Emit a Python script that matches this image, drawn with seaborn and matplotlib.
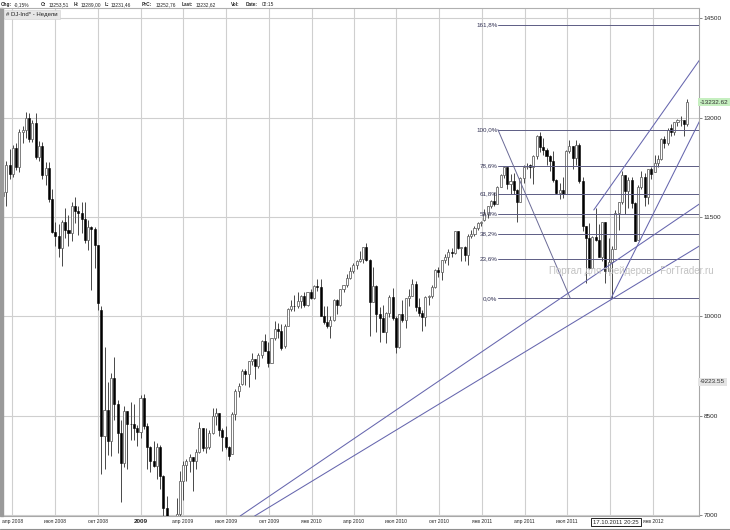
import numpy as np
import pandas as pd
import matplotlib
matplotlib.use("Agg")
import matplotlib.pyplot as plt
import matplotlib.dates as mdates
import seaborn as sns

# ---------------- data (weekly DJ-Ind CFD) ----------------
first_week = "2008-03-10"
opens = [11820, 11880, 12290, 12150, 12540, 12260, 12780, 12820, 12990, 12680,
         12920, 12410, 12570, 12140, 12240, 11770, 11280, 11220, 11030, 11430,
         11300, 11260, 11660, 11590, 11560, 11470, 11150, 11350, 11320, 11070,
         10100, 8190, 8590, 8120, 9070, 8680, 8240, 7790, 8570, 8380,
         8370, 8320, 8260, 8770, 8340, 8020, 7820, 7740, 8020, 7590,
         7110, 6800, 6370, 6960, 7020, 7520, 7760, 7820, 7870, 7820,
         7950, 8320, 8010, 8020, 8240, 8500, 8540, 8280, 8180, 8020,
         7920, 8520, 8870, 8980, 9180, 9130, 9320, 9350, 9250, 9420,
         9630, 9480, 9300, 9680, 9810, 9780, 9550, 9860, 10110, 10160,
         10150, 10230, 10310, 10170, 10360, 10270, 10460, 10450, 10010, 9910,
         9850, 9940, 10240, 10170, 10410, 10470, 10580, 10690, 10770, 10840,
         10860, 11040, 10850, 10220, 10460, 10030, 9980, 9770, 10050, 10290,
         9980, 9530, 10040, 9940, 10270, 10310, 10490, 10140, 10050, 9990,
         10290, 10300, 10450, 10700, 10670, 10850, 10900, 10970, 10960, 11290,
         11030, 11040, 10930, 11220, 11250, 11330, 11410, 11450, 11550, 11660,
         11740, 11690, 11960, 12140, 12260, 12000, 12040, 11910, 11730, 12090,
         12250, 12290, 12250, 12420, 12720, 12550, 12510, 12420, 12350, 12060,
         11860, 11910, 11840, 12490, 12570, 12390, 12590, 12050, 11360, 11180,
         10730, 11200, 11150, 10900, 11420, 10680, 10820, 11010, 11560, 11720,
         12140, 11890, 12060, 11710, 11160, 11950, 12110, 11800, 12220, 12180,
         12320, 12380, 12680, 12620, 12840, 12780, 12930, 12960, 12960, 12900]
highs = [12330, 12350, 12530, 12590, 12620, 12830, 12870, 13090, 13070, 12970,
         13070, 12650, 12630, 12330, 12330, 11930, 11430, 11400, 11460, 11630,
         11530, 11730, 11800, 11660, 11720, 11720, 11460, 11360, 11350, 11080,
         10150, 9540, 9010, 9140, 9390, 8740, 8440, 8640, 8570, 8700,
         8670, 8360, 8810, 8830, 8390, 8040, 8120, 8090, 8050, 7600,
         7290, 6810, 6990, 7250, 7670, 7820, 7840, 7920, 7880, 8000,
         8410, 8320, 8310, 8290, 8620, 8620, 8540, 8320, 8340, 8040,
         8550, 8900, 9000, 9210, 9210, 9320, 9440, 9360, 9450, 9640,
         9730, 9610, 9680, 9930, 9900, 9880, 9880, 10130, 10250, 10320,
         10360, 10320, 10360, 10370, 10420, 10480, 10570, 10570, 10160, 10160,
         10010, 10260, 10260, 10420, 10480, 10640, 10740, 10800, 10850, 10990,
         11050, 11100, 10860, 10740, 10470, 10140, 10170, 10060, 10320, 10430,
         10000, 10040, 10240, 10280, 10420, 10560, 10540, 10270, 10100, 10300,
         10320, 10470, 10710, 10740, 10850, 10940, 11010, 11030, 11290, 11290,
         11050, 11060, 11240, 11300, 11360, 11420, 11440, 11620, 11670, 11750,
         11870, 11970, 12150, 12270, 12260, 12150, 12160, 11920, 12110, 12290,
         12320, 12300, 12430, 12740, 12790, 12690, 12540, 12440, 12500, 12080,
         12020, 12100, 12510, 12660, 12570, 12660, 12610, 12110, 11370, 11410,
         11220, 11630, 11400, 11430, 11430, 11190, 11060, 11610, 11730, 12190,
         12140, 12110, 12100, 11720, 11980, 12190, 12160, 12230, 12250, 12440,
         12440, 12690, 12720, 12840, 12900, 12940, 12980, 13030, 12970, 13289]
lows = [11660, 11660, 12080, 12110, 12210, 12180, 12610, 12690, 12630, 12630,
        12380, 12350, 12080, 11990, 11730, 11260, 11060, 10890, 10760, 11190,
        11060, 11130, 11410, 11230, 11260, 11100, 11000, 10390, 10730, 10100,
        7620, 7700, 7910, 7890, 8430, 7940, 7190, 7730, 7700, 8130,
        8140, 8040, 8160, 8300, 7690, 7650, 7730, 7540, 7400, 6990,
        6700, 6210, 6290, 6840, 6990, 7230, 7520, 7650, 7360, 7700,
        7940, 7960, 7940, 7990, 8230, 8360, 8190, 7960, 8000, 7830,
        7920, 8440, 8780, 8960, 8970, 8940, 9260, 9060, 9220, 9370,
        9470, 9240, 9290, 9640, 9680, 9490, 9520, 9860, 10080, 10080,
        10130, 10130, 10140, 10160, 10260, 10260, 10380, 10000, 9890, 9830,
        9680, 9930, 10040, 10160, 10360, 10440, 10560, 10660, 10720, 10820,
        10800, 10830, 9710, 10220, 9760, 9610, 9760, 9600, 9990, 9940,
        9450, 9520, 9920, 9820, 10150, 10300, 10080, 10010, 9780, 9850,
        10170, 10280, 10430, 10590, 10550, 10810, 10770, 10890, 10940, 11010,
        10830, 10830, 10770, 11180, 11220, 11300, 11360, 11440, 11490, 11630,
        11660, 11690, 11950, 12090, 11920, 11850, 11840, 11430, 11720, 12020,
        12220, 12090, 12000, 12380, 12480, 12440, 12290, 12200, 12030, 11840,
        11770, 11780, 11840, 12470, 12220, 12290, 12010, 11290, 10510, 10710,
        10730, 11130, 10890, 10840, 10510, 10680, 10270, 11010, 11300, 11700,
        11550, 11640, 11640, 11140, 11160, 11920, 11660, 11690, 12080, 12180,
        12260, 12360, 12540, 12580, 12720, 12740, 12880, 12880, 12730, 12880]
closes = [11880, 12290, 12150, 12540, 12260, 12780, 12820, 12990, 12680, 12920,
          12410, 12570, 12140, 12240, 11770, 11280, 11220, 11030, 11430, 11300,
          11260, 11660, 11590, 11560, 11470, 11150, 11350, 11320, 11070, 10200,
          8190, 8590, 8120, 9070, 8680, 8240, 7790, 8570, 8380, 8370,
          8320, 8260, 8770, 8340, 8020, 7820, 7740, 8020, 7590, 7110,
          6800, 6370, 6960, 7020, 7520, 7760, 7820, 7870, 7820, 7950,
          8320, 8010, 8020, 8240, 8500, 8540, 8280, 8180, 8020, 7890,
          8520, 8870, 8950, 9180, 9130, 9320, 9350, 9250, 9420, 9630,
          9480, 9300, 9680, 9810, 9780, 9520, 9860, 10110, 10160, 10150,
          10230, 10310, 10170, 10360, 10270, 10460, 10450, 10010, 9910, 9850,
          9940, 10240, 10170, 10410, 10470, 10580, 10690, 10770, 10840, 10860,
          11040, 10850, 10220, 10460, 10030, 9980, 9770, 10050, 10290, 9980,
          9530, 10040, 9940, 10270, 10310, 10490, 10140, 10050, 9990, 10290,
          10300, 10450, 10700, 10670, 10850, 10900, 10970, 10960, 11290, 11030,
          11040, 10930, 11220, 11250, 11330, 11410, 11420, 11550, 11660, 11740,
          11690, 11960, 12140, 12260, 12000, 12040, 11910, 11730, 12090, 12250,
          12250, 12250, 12420, 12720, 12550, 12510, 12420, 12350, 12060, 11860,
          11910, 11840, 12490, 12570, 12390, 12590, 12050, 11360, 11180, 10730,
          11200, 11150, 10900, 11420, 10680, 10820, 11010, 11560, 11720, 12140,
          11890, 12060, 11710, 11140, 11950, 12110, 11800, 12220, 12150, 12320,
          12380, 12680, 12620, 12820, 12780, 12930, 12960, 12960, 12900, 13232.62]

# Fibonacci retracement (levels in %, anchors in price)
fib_low, fib_high = 10270, 12820
fib_levels = [0.0, 23.6, 38.2, 50.0, 61.8, 78.6, 100.0, 161.8]
fib_start = "2011-02-03"
fib_trend = (("2011-02-03", 12820), ("2011-07-08", 10270))

# trend / fan lines: (start date, start price, end date, end price)
fan_lines = [
    ("2011-08-27", 11606, "2012-04-10", 13879),
    ("2011-10-03", 10273, "2012-04-10", 12959),
    ("2009-08-01", 6985, "2012-04-10", 11702),
    ("2009-09-01", 6985, "2012-04-10", 11067),
]

price_ticks = [7000, 8500, 10000, 11500, 13000, 14500]
quarter_starts = ["2008-04-01", "2008-07-01", "2008-10-01", "2009-01-01", "2009-04-01",
                  "2009-07-01", "2009-10-01", "2010-01-01", "2010-04-01", "2010-07-01",
                  "2010-10-01", "2011-01-01", "2011-04-01", "2011-07-01", "2011-10-01",
                  "2012-01-01"]
# the October 2011 label is hidden under the cursor date box in the reference
quarter_labels = ["апр 2008", "июл 2008", "окт 2008", "2009", "апр 2009", "июл 2009",
                  "окт 2009", "янв 2010", "апр 2010", "июл 2010", "окт 2010", "янв 2011",
                  "апр 2011", "июл 2011", "", "янв 2012"]

header_labels = ["Chg:", "O:", "H:", "L:", "PrC:", "Last:", "Vol:", "Date:"]
header_values = ["-0,15%", "13253,51", "13289,00", "13231,46", "13252,76", "13232,62", "", "02:15"]
symbol_title = "# DJ-Ind* - Недели"
watermark = "Портал для трейдеров - ForTrader.ru"
last_label = "-13232.62"
cursor_price_label = "-9223.55"
cursor_date_label = "17.10.2011 20:25"

# ---------------- figure ----------------
sns.set_style("white")
plt.rcParams['font.family'] = ['Liberation Sans', 'DejaVu Sans']

W, H = 730, 530
fig = plt.figure(figsize=(W / 100, H / 100), dpi=100)
ax = fig.add_axes([3 / W, 14 / H, 696 / W, 507.7 / H])

df = pd.DataFrame({
    "date": pd.date_range(first_week, periods=len(closes), freq="W-MON") + pd.Timedelta(days=2),
    "open": opens, "high": highs, "low": lows, "close": closes,
})
df["x"] = mdates.date2num(df["date"])
up = df[df["close"] >= df["open"]]
dn = df[df["close"] < df["open"]]

ax.vlines(df["x"], df["low"], df["high"], color="#484848", lw=0.7, zorder=2)
ax.bar(up["x"], up["close"] - up["open"], bottom=up["open"], width=4.4,
       color="white", edgecolor="#6a6a6a", lw=0.6, zorder=3)
ax.bar(dn["x"], dn["close"] - dn["open"], bottom=dn["open"], width=4.4,
       color="black", edgecolor="black", lw=0.4, zorder=3)

# fib retracement
fib_x0 = mdates.date2num(pd.Timestamp(fib_start))
xmax = mdates.date2num(pd.Timestamp("2012-04-08"))
fib_col = "#5c5c84"
for lv in fib_levels:
    p = fib_low + (fib_high - fib_low) * lv / 100.0
    sns.lineplot(x=[fib_x0, xmax + 30], y=[p, p], ax=ax, color=fib_col, lw=0.7, zorder=4)
    ax.text(fib_x0 - 1, p, f"{lv:.1f}%".replace(".", ","), ha="right", va="center",
            fontsize=4.5, color="#333355", zorder=5)
(t0, p0), (t1, p1) = fib_trend
sns.lineplot(x=mdates.date2num(pd.to_datetime([t0, t1])), y=[p0, p1], ax=ax,
             color="#6a6a96", lw=0.7, zorder=4)

for (d0, q0, d1, q1) in fan_lines:
    sns.lineplot(x=mdates.date2num(pd.to_datetime([d0, d1])), y=[q0, q1], ax=ax,
                 color="#6666ae", lw=0.75, zorder=4)

# axes, grid
ax.set_xlim(mdates.date2num(pd.Timestamp("2008-03-12")), xmax)
ax.set_ylim(6985, 14651)
qx = mdates.date2num(pd.to_datetime(quarter_starts))
ax.set_xticks(qx)
ax.set_xticklabels(quarter_labels, fontsize=3.6)
for lab in ax.get_xticklabels():
    if lab.get_text() == "2009":
        lab.set_fontweight("bold")
        lab.set_fontsize(4.6)
ax.yaxis.tick_right()
ax.set_yticks(price_ticks)
ax.set_yticklabels([str(v) for v in price_ticks], fontsize=4.6)
ax.tick_params(axis="y", length=2.5, width=0.5, color="#555555", pad=1)
ax.tick_params(axis="x", length=0, pad=2.5)
ax.grid(True, color="#cfcfcf", lw=0.8, zorder=0)
ax.set_axisbelow(True)
for s in ["top", "left"]:
    ax.spines[s].set_visible(False)
for s in ["right", "bottom"]:
    ax.spines[s].set_color("#a8a8a8")
    ax.spines[s].set_linewidth(0.8)
ax.set_xlabel("")
ax.set_ylabel("")

# left grey band and header separator
fig.patches.append(plt.Rectangle((0, 14 / H), 3 / W, 507.7 / H, transform=fig.transFigure,
                                 color="#9a9a9a", zorder=1))
fig.add_artist(plt.Line2D([0, 699 / W], [1 - 8.3 / H] * 2, color="#b0b0b0", lw=0.8))
fig.add_artist(plt.Line2D([0, 1], [1 - 528.5 / H] * 2, color="#909090", lw=0.8))

# header
hx_lab = [1, 41, 74, 105, 142, 182, 231, 246]
hx_val = [14, 49, 81, 111, 156, 196, 0, 262]
for xl, t, xv, v in zip(hx_lab, header_labels, hx_val, header_values):
    fig.text(xl / W, 1 - 4.3 / H, t, fontsize=3.4, fontweight="bold", va="center", ha="left")
    if v:
        fig.text(xv / W, 1 - 4.3 / H, v, fontsize=3.5, va="center", ha="left")

fig.text(6 / W, 1 - 14.5 / H, symbol_title, fontsize=4.3, va="center", ha="left",
         color="#222222",
         bbox=dict(boxstyle="square,pad=0.35", fc="#e6e6e6", ec="#d0d0d0", lw=0.4))

# watermark
fig.text(549 / W, 1 - 270.5 / H, watermark, fontsize=7, color="#c2c2c2", va="center", ha="left")

# right-side price labels
ax.text(1.0015, closes[-1], last_label, transform=ax.get_yaxis_transform(), fontsize=4.6,
        va="center", ha="left", color="#333333",
        bbox=dict(boxstyle="square,pad=0.25", fc="#c6efc0", ec="none"))
ax.text(1.0015, 9010, cursor_price_label, transform=ax.get_yaxis_transform(), fontsize=4.6,
        va="center", ha="left", color="#333333",
        bbox=dict(boxstyle="square,pad=0.25", fc="#e4e4e4", ec="none"))

# cursor date box
fig.text(616 / W, 1 - 522 / H, cursor_date_label, fontsize=4.2, va="center", ha="center",
         bbox=dict(boxstyle="square,pad=0.3", fc="white", ec="black", lw=0.6), zorder=10)

fig.savefig("out.png", dpi=100)
